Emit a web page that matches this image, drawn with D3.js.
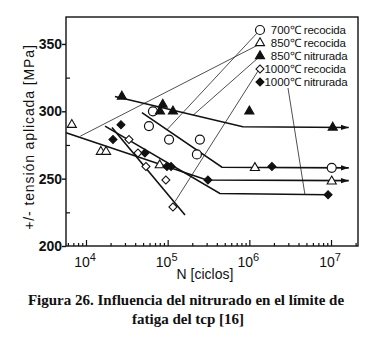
<!DOCTYPE html>
<html>
<head>
<meta charset="utf-8">
<script src="https://cdn.jsdelivr.net/npm/d3@7"></script>
<style>
  body { margin: 0; background: #fff; }
  svg { display: block; }
</style>
</head>
<body>
<svg id="chart" width="369" height="338"></svg>
<script>
// measured points [N ciclos, MPa]
const pts700rec = [[66000, 300], [59000, 289], [104000, 279], [248000, 279], [228000, 268], [1.02e7, 258]];
const pts850rec = [[6700, 290], [15200, 270], [17600, 270], [80000, 260], [1.17e6, 258], [1.02e7, 248]];
const pts850nit = [[27500, 311], [87000, 305], [80500, 300], [116000, 300], [1.0e6, 300], [1.05e7, 288]];
const pts1000rec = [[33600, 279], [43300, 269], [54200, 259], [95000, 249], [116000, 229]];
const pts1000nit = [[26800, 290], [21400, 279], [52600, 269], [98000, 259], [110000, 259], [311000, 249], [1.89e6, 259], [9.2e6, 238]];

// fitted curves
const fit700rec = [[48400, 299], [462000, 258.5], [1.65e7, 258]];
const fit850rec = [[5700, 284], [302000, 249], [1.65e7, 248.5]];
const fit850nit = [[22600, 311], [832000, 288.5], [1.65e7, 288]];
const fit1000rec = [[20800, 288], [163000, 223]];
const fit1000nit = [[17100, 289], [436000, 239], [9.2e6, 238]];

// legend
const legendTemp = ["700", "850", "850", "1000", "1000"];
const legendState = ["recocida", "recocida", "nitrurada", "recocida", "nitrurada"];
const legendSymbol = ["circle", "triangle", "triangleFilled", "diamond", "diamondFilled"];
// where each legend leader line meets its curve
const leaderEnds = [[97000, 286], [8500, 281.5], [204000, 297], [123000, 233], [4.8e6, 238]];

const yMajor = [200, 250, 300, 350];
const yMinor = [225, 275, 325];
const xMajor = [1e4, 1e5, 1e6, 1e7];
const xExp = ["4", "5", "6", "7"];

const svg = d3.select('#chart');
const mLeft = 66, mRight = 358, mTop = 17, mBottom = 246;

const x = d3.scaleLog().domain([5690, 2.14e7]).range([mLeft, mRight]);
const y = d3.scaleLinear().domain([200, 370]).range([mBottom, mTop]);

svg.append('defs').append('marker')
    .attr('id', 'arrow')
    .attr('viewBox', '0 0 9 6')
    .attr('refX', 9).attr('refY', 3)
    .attr('markerWidth', 8).attr('markerHeight', 6)
    .attr('markerUnits', 'userSpaceOnUse')
    .attr('orient', 'auto')
    .append('path')
    .attr('d', 'M0,0L9,3L0,6Z')
    .attr('fill', '#111');

// frame
svg.append('rect')
    .attr('x', mLeft).attr('y', mTop)
    .attr('width', mRight - mLeft).attr('height', mBottom - mTop)
    .attr('fill', 'none')
    .attr('stroke', '#111')
    .attr('stroke-width', 1.4);

// x minor ticks
let xMinor = [];
for (let e = 3; e <= 7; e++) {
    for (let k = 2; k <= 9; k++) {
        let v = k * Math.pow(10, e);
        if (v > x.domain()[0] && v < x.domain()[1]) xMinor.push(v);
    }
}
svg.append('g')
    .attr('transform', `translate(0,${mBottom})`)
    .call(d3.axisBottom(x).tickValues(xMinor).tickSize(-3).tickFormat(''))
    .call(g => g.select('.domain').remove())
    .selectAll('line').attr('stroke', '#111').attr('stroke-width', 1.2);

let xAxis = svg.append('g')
    .attr('transform', `translate(0,${mBottom})`)
    .call(d3.axisBottom(x).tickValues(xMajor).tickSize(-6).tickFormat(''))
    .call(g => g.select('.domain').remove());
xAxis.selectAll('line').attr('stroke', '#111').attr('stroke-width', 1.2);

// x labels as 10 with superscript
let xl = svg.append('g')
    .style('font', '14px "Liberation Sans", Arial, sans-serif')
    .attr('fill', '#111')
    .selectAll('text')
    .data(xMajor)
    .join('text')
    .attr('x', d => x(d) - 1)
    .attr('y', 267)
    .attr('text-anchor', 'middle');
xl.append('tspan').text('10');
xl.append('tspan').attr('dy', -6).attr('font-size', 11).text((d, i) => xExp[i]);

// y ticks
svg.append('g')
    .attr('transform', `translate(${mLeft},0)`)
    .call(d3.axisLeft(y).tickValues(yMinor).tickSize(-4).tickFormat(''))
    .call(g => g.select('.domain').remove())
    .selectAll('line').attr('stroke', '#111').attr('stroke-width', 1.2);

let yAxis = svg.append('g')
    .attr('transform', `translate(${mLeft},0)`)
    .call(d3.axisLeft(y).tickValues(yMajor).tickSize(4).tickPadding(0))
    .call(g => g.select('.domain').remove());
yAxis.selectAll('line').attr('stroke', '#111').attr('stroke-width', 1.4);
yAxis.selectAll('text')
    .style('font', 'bold 14px "Liberation Sans", Arial, sans-serif')
    .attr('fill', '#111');

// axis titles
svg.append('text')
    .attr('transform', 'translate(34,137) rotate(-90)')
    .attr('text-anchor', 'middle')
    .style('font', '14px "Liberation Sans", Arial, sans-serif')
    .style('letter-spacing', '0.9px')
    .attr('fill', '#111')
    .text('+/- tensión aplicada [MPa]');

svg.append('text')
    .attr('x', 205).attr('y', 279)
    .attr('text-anchor', 'middle')
    .style('font', '14px "Liberation Sans", Arial, sans-serif')
    .attr('fill', '#111')
    .text('N [ciclos]');

// caption
svg.append('text')
    .attr('x', 186).attr('y', 305)
    .attr('text-anchor', 'middle')
    .style('font', 'bold 15px "Liberation Serif", "Times New Roman", serif')
    .attr('fill', '#111')
    .text('Figura 26. Influencia del nitrurado en el límite de');
svg.append('text')
    .attr('x', 188).attr('y', 324)
    .attr('text-anchor', 'middle')
    .style('font', 'bold 15px "Liberation Serif", "Times New Roman", serif')
    .attr('fill', '#111')
    .text('fatiga del tcp [16]');

// legend positions
const legX = 260, legY0 = 30, legDy = 13;
const legPos = legendTemp.map((t, i) => [legX, legY0 + i * legDy]);

// leader lines from legend to curves
svg.append('g')
    .selectAll('line')
    .data(leaderEnds)
    .join('line')
    .attr('x1', (d, i) => i == 4 ? 288 : legPos[i][0] - 2)
    .attr('y1', (d, i) => i == 4 ? 88 : legPos[i][1] + 2)
    .attr('x2', d => x(d[0]))
    .attr('y2', d => y(d[1]))
    .attr('stroke', '#222')
    .attr('stroke-width', 0.8);

// fitted curves
const line = d3.line().x(d => x(d[0])).y(d => y(d[1]));
const fits = [
    { pts: fit700rec, arrow: true },
    { pts: fit850rec, arrow: true },
    { pts: fit850nit, arrow: true },
    { pts: fit1000rec, arrow: false },
    { pts: fit1000nit, arrow: false }
];
svg.append('g')
    .selectAll('path')
    .data(fits)
    .join('path')
    .attr('d', d => line(d.pts))
    .attr('fill', 'none')
    .attr('stroke', '#111')
    .attr('stroke-width', 1.6)
    .attr('marker-end', d => d.arrow ? 'url(#arrow)' : null);

// markers
function drawSymbol(g, type) {
    if (type == 'circle') {
        g.append('circle').attr('r', 4.5)
            .attr('fill', '#fff').attr('stroke', '#111').attr('stroke-width', 1.2);
    } else if (type.startsWith('triangle')) {
        g.append('path')
            .attr('d', d3.symbol(d3.symbolTriangle, 36)())
            .attr('fill', type == 'triangle' ? '#fff' : '#111')
            .attr('stroke', '#111').attr('stroke-width', 1.1);
    } else {
        g.append('path')
            .attr('d', d3.symbol(d3.symbolSquare, 32)())
            .attr('transform', 'rotate(45)')
            .attr('fill', type == 'diamond' ? '#fff' : '#111')
            .attr('stroke', '#111').attr('stroke-width', 1.1);
    }
}

const allPts = [pts700rec, pts850rec, pts850nit, pts1000rec, pts1000nit];
allPts.forEach((pts, i) => {
    svg.append('g')
        .selectAll('g')
        .data(pts)
        .join('g')
        .attr('transform', d => `translate(${x(d[0])},${y(d[1])})`)
        .each(function () { drawSymbol(d3.select(this), legendSymbol[i]); });
});

// legend
const legend = svg.append('g')
    .selectAll('g')
    .data(legendTemp)
    .join('g')
    .attr('transform', (d, i) => `translate(${legPos[i][0]},${legPos[i][1]})`);
legend.each(function (d, i) { drawSymbol(d3.select(this), legendSymbol[i]); });
legend.append('text')
    .attr('x', 30).attr('y', 4)
    .attr('text-anchor', 'end')
    .style('font', '11.5px "Liberation Sans", Arial, sans-serif')
    .attr('fill', '#111')
    .text(d => d);
legend.append('text')
    .attr('x', 30).attr('y', 4)
    .style('font', '11.5px "Liberation Sans", Arial, sans-serif')
    .style('letter-spacing', '-0.2px')
    .attr('fill', '#111')
    .text((d, i) => '℃ ' + legendState[i]);
</script>
</body>
</html>
